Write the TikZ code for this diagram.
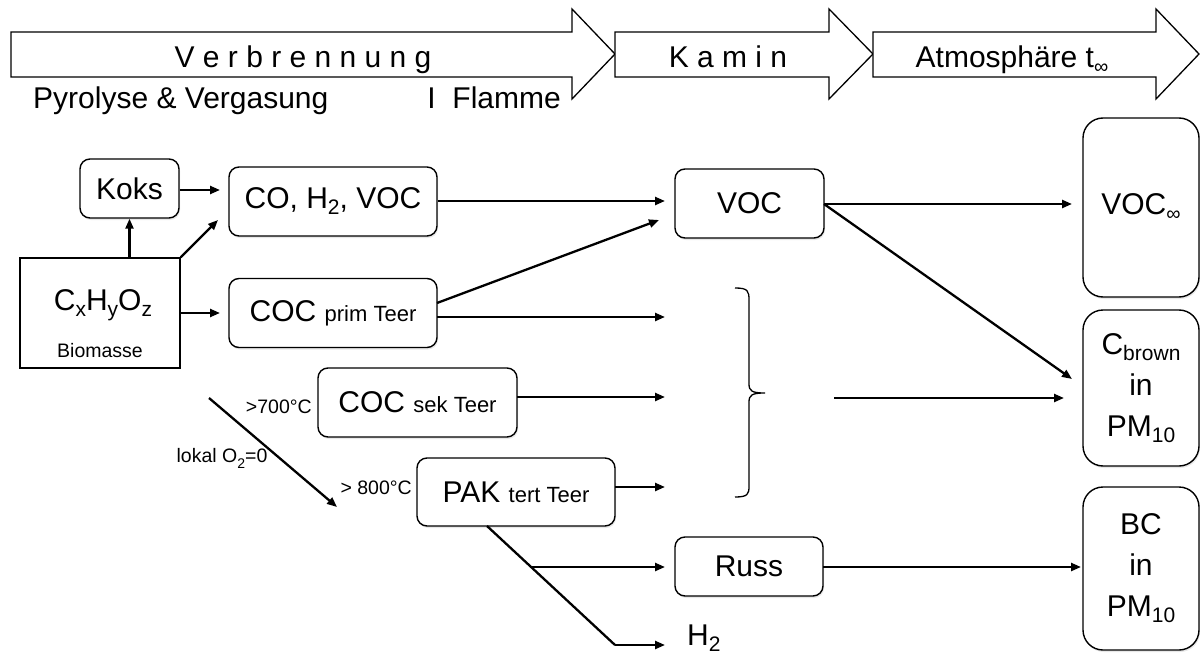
\documentclass[tikz,border=0pt]{standalone}
\usepackage{fontspec}
\setmainfont{Liberation Sans}
\usetikzlibrary{arrows.meta,shadows}
\newcommand{\fsz}[1]{\fontsize{#1}{#1}\selectfont}
\newcommand{\subt}[2]{\raisebox{-6pt}{\fsz{#1}#2}}
\begin{document}
\begin{tikzpicture}[x=1pt,y=-1pt,
  banner/.style={draw=black,line width=1.3pt,fill=white,line join=miter},
  rbox/.style={draw=black,line width=1.4pt,fill=white,rounded corners=10pt,inner sep=0pt,
     font=\fsz{30},drop shadow={opacity=0.18,shadow xshift=1pt,shadow yshift=-2pt}},
  bigbox/.style={rbox,rounded corners=20pt,align=center,font=\fontsize{30}{41}\selectfont},
  sqbox/.style={draw=black,line width=1.4pt,fill=white,inner sep=0pt},
  arr/.style={line width=2.3pt,-{Triangle[length=10pt,width=8pt]}},
  plain/.style={line width=2.3pt},
  lbl/.style={inner sep=0pt,font=\fsz{19.5}},
  big/.style={inner sep=0pt,font=\fsz{30}}]
\useasboundingbox (0,0) rectangle (1200,661);

% banner arrows
\draw[banner] (11,32) -- (572,32) -- (572,9) -- (615,54) -- (572,99) -- (572,77) -- (11,77) -- cycle;
\draw[banner] (615,32) -- (829,32) -- (829,9) -- (873,54) -- (829,99) -- (829,77) -- (615,77) -- cycle;
\draw[banner] (873,32) -- (1156,32) -- (1156,9) -- (1199,54) -- (1156,99) -- (1156,77) -- (873,77) -- cycle;
\node[big,anchor=base] (verb) at (303,67) {V e r b r e n n u n g};
\node[big,anchor=base] (kamin) at (728,67) {K a m i n};
\node[big,anchor=base] (atmo) at (1012,67) {Atmosphäre t\subt{20}{∞}};
\node[big,anchor=base west] (pyro) at (33,109) {Pyrolyse \& Vergasung};
\node[big,anchor=base east] (flam) at (561,109) {I\ \ Flamme};

% boxes
\node[rbox,minimum width=99pt,minimum height=59pt] (koks) at (129.5,188.5) {Koks};
\node[rbox,minimum width=208pt,minimum height=69pt] (co) at (333,201.5) {CO, H\subt{21}{2}, VOC};
\node[sqbox,minimum width=160pt,minimum height=110pt] (bio) at (100,313) {};
\node[big] (cxhy) at (103,305) {C\subt{21}{x}H\subt{21}{y}O\subt{21}{z}};
\node[lbl] (biom) at (100,351) {Biomasse};
\node[rbox,minimum width=208pt,minimum height=69pt] (cocp) at (333,313) {COC {\fsz{22}prim Teer}};
\node[rbox,minimum width=199pt,minimum height=69pt] (cocs) at (417.5,402.5) {COC {\fsz{22}sek Teer}};
\node[rbox,minimum width=198pt,minimum height=68pt] (pak) at (516,492) {PAK {\fsz{22}tert Teer}};
\node[rbox,minimum width=149pt,minimum height=69pt] (voc) at (749.5,203.5) {VOC};
\node[rbox,minimum width=148pt,minimum height=59pt] (russ) at (749,566.5) {Russ};
\node[bigbox,minimum width=116pt,minimum height=179pt] (vocinf) at (1141,207.5) {VOC\subt{20}{∞}};
\node[bigbox,minimum width=116pt,minimum height=156pt] (cbrown) at (1141,388) {C\subt{21}{brown}\\in\\PM\subt{21}{10}};
\node[bigbox,minimum width=116pt,minimum height=163pt] (bc) at (1141,568.5) {BC\\in\\PM\subt{21}{10}};

% labels
\node[lbl,anchor=east] (t700) at (312,407) {>700°C};
\node[lbl] (lokal) at (222,458) {lokal O\subt{14}{2}=0};
\node[lbl,anchor=east] (t800) at (412,488) {> 800°C};
\node[big,anchor=base west] (h2) at (687,645) {H\subt{21}{2}};

% free ends
\coordinate (e1) at (220,190);
\coordinate (e2) at (218,220);
\coordinate (e3) at (665,201);
\coordinate (s4) at (437,303);
\coordinate (e4) at (659,220);
\coordinate (s5) at (437,317);
\coordinate (e5) at (665,317);
\coordinate (s6) at (517,397);
\coordinate (e6) at (665,397);
\coordinate (s7) at (615,487);
\coordinate (e7) at (665,487);
\coordinate (d1) at (209,398);
\coordinate (d2) at (337,507);
\coordinate (s8) at (834,398);
\coordinate (e8) at (1064,398);
\coordinate (s9) at (824,204);
\coordinate (e9) at (1072,204);
\coordinate (e10) at (1072,379);
\coordinate (p1) at (487,526);
\coordinate (pb) at (532,567);
\coordinate (p2) at (615,645);
\coordinate (e11) at (665,567);
\coordinate (e12) at (665,645);
\coordinate (s13) at (823,567);
\coordinate (e13) at (1081,567);

% connectors
\draw[arr] (koks.east |- e1) -- (e1);
\draw[arr] (koks.south |- bio.north) -- (koks.south);
\draw[arr] (bio.north east) -- (e2);
\draw[arr] (bio.east) -- (bio.east -| e1);
\draw[arr] (co.east |- e3) -- (e3);
\draw[arr] (s4) -- (e4);
\draw[arr] (s5) -- (e5);
\draw[arr] (s6) -- (e6);
\draw[arr] (s7) -- (e7);
\draw[arr] (d1) -- (d2);
\draw[arr] (s8) -- (e8);
\draw[arr] (s9) -- (e9);
\draw[arr] (s9) -- (e10);
\draw[plain] (p1) -- (p2);
\draw[arr] (pb) -- (e11);
\draw[arr] (p2) -- (e12);
\draw[arr] (s13) -- (e13);

% brace
\draw[line width=1.3pt] (735,288) .. controls (748,288) and (749,291) .. (749,300)
  -- (749,384) .. controls (749,391) and (752,393) .. (765,393)
  .. controls (752,393) and (749,395) .. (749,402)
  -- (749,486) .. controls (749,494) and (748,497) .. (735,497);
\end{tikzpicture}
\end{document}
